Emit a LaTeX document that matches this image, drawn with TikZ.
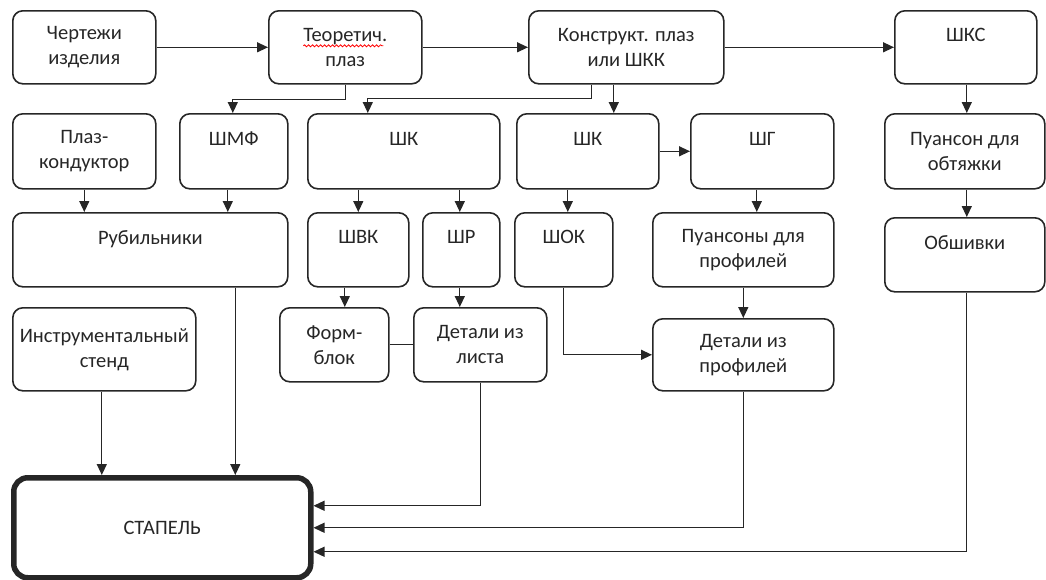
\documentclass[tikz,border=0pt]{standalone}
\usepackage{fontspec}
\setmainfont{Carlito}
\usetikzlibrary{arrows.meta,calc,decorations.pathmorphing}
\begin{document}
\begin{tikzpicture}[x=1pt,y=-1pt,
  box/.style={draw=black!85, line width=1.6pt, rounded corners=10pt, align=center,
    inner sep=0pt, anchor=north west, font=\fontsize{20.5}{25}\selectfont, text=black!85},
  mainbox/.style={box, line width=5.5pt, rounded corners=14pt},
  arr/.style={draw=black!85, line width=1.3pt, -{Triangle[length=11pt,width=10pt]}},
  ln/.style={draw=black!85, line width=1.3pt}]
\useasboundingbox (0,0) rectangle (1046,579);

% row 1
\node[box, minimum width=143pt, minimum height=73pt] (A) at (12,10) {Чертежи\\изделия};
\node[box, minimum width=153pt, minimum height=73pt] (B) at (268,10) {Теоретич.\\плаз};
\node[box, minimum width=195pt, minimum height=73pt] (C) at (528,10) {Конструкт. плаз\\или ШКК};
\node[box, minimum width=142pt, minimum height=73pt] (D) at (894,10) {ШКС\\~};
% row 2
\node[box, minimum width=143pt, minimum height=75pt] (E) at (12,113) {Плаз-\\кондуктор};
\node[box, minimum width=108pt, minimum height=75pt] (F) at (179,113) {ШМФ\\~};
\node[box, minimum width=192pt, minimum height=75pt] (G) at (307,113) {ШК\\~};
\node[box, minimum width=142pt, minimum height=75pt] (H) at (516,113) {ШК\\~};
\node[box, minimum width=143pt, minimum height=75pt] (I) at (690,113) {ШГ\\~};
\node[box, minimum width=160pt, minimum height=75pt] (J) at (884,113) {Пуансон для\\обтяжки};
% row 3
\node[box, minimum width=275pt, minimum height=74pt] (K) at (12,212) {Рубильники\\~};
\node[box, minimum width=101pt, minimum height=74pt] (L) at (307,212) {ШВК\\~};
\node[box, minimum width=77pt, minimum height=74pt] (M) at (422,212) {ШР\\~};
\node[box, minimum width=98pt, minimum height=74pt] (N) at (514,212) {ШОК\\~};
\node[box, minimum width=181pt, minimum height=74pt] (O) at (652,212) {Пуансоны для\\профилей};
\node[box, minimum width=160pt, minimum height=74pt] (P) at (884,217) {Обшивки\\~};
% row 4
\node[box, minimum width=183pt, minimum height=83pt] (Q) at (12,307) {Инструментальный\\стенд};
\node[box, minimum width=109pt, minimum height=74pt] (R) at (279,307) {Форм-\\блок};
\node[box, minimum width=133pt, minimum height=74pt] (S) at (413,307) {Детали из\\листа};
\node[box, minimum width=181pt, minimum height=72pt] (T) at (652,318) {Детали из\\профилей};
% main
\node[mainbox, minimum width=297pt, minimum height=100pt] (U) at (11,475) {СТАПЕЛЬ};

% spell-check underline
\draw[red, line width=0.8pt, decorate, decoration={snake, amplitude=1pt, segment length=4pt}]
  ($(B.center)+(-42,-1.5)$) -- ($(B.center)+(38,-1.5)$);

% exit points
\coordinate (q1) at ($(Q.south)+(-2.5,0)$);
\coordinate (k1) at ($(K.south)+(85,0)$);

% connectors
\draw[arr] (A.east) -- (B.west);
\draw[arr] (B.east) -- (C.west);
\draw[arr] (C.east) -- (D.west);
\draw[arr] (B.south) -- ++(0,15) -| ($(F.north)+(-1,0)$);
\draw[arr] ($(C.south)+(-34.5,0)$) -- ++(0,14) -| ($(G.north)+(-36,0)$);
\draw[arr] ($(C.south)+(-12.5,0)$) -- ($(H.north)+(26,0)$);
\draw[arr] ($(D.south)+(1,0)$) -- ($(J.north)+(2,0)$);
\draw[arr] (E.south) -- (E.south |- K.north);
\draw[arr] ($(F.south)+(-6,0)$) -- ($(K.north)+(77.5,0)$);
\draw[arr] (L.north |- G.south) -- (L.north);
\draw[arr] ($(M.north |- G.south)+(-1.5,0)$) -- ($(M.north)+(-1.5,0)$);
\draw[arr] (H.east) -- (I.west);
\draw[arr] ($(H.south)+(-20,0)$) -- ($(N.north)+(4,0)$);
\draw[arr] ($(I.south)+(-5.5,0)$) -- ($(O.north)+(13.5,0)$);
\draw[arr] ($(J.south)+(2,0)$) -- ($(P.north)+(2,0)$);
\draw[arr] ($(L.south)+(-13.5,0)$) -- ($(R.north)+(10.5,0)$);
\draw[arr] ($(M.south)+(-1.5,0)$) -- ($(S.north)+(-20.5,0)$);
\draw[ln] (R.east) -- (S.west);
\draw[arr] (N.south) |- (T.west);
\draw[arr] (O.south) -- (T.north);
\draw[arr] (q1) -- (q1 |- U.north);
\draw[arr] (k1) -- (k1 |- U.north);
\draw[arr] (S.south) |- ($(U.east)+(0,-22)$);
\draw[arr] (T.south) |- (U.east);
\draw[arr] ($(P.south)+(2,0)$) |- ($(U.east)+(0,24)$);
\end{tikzpicture}
\end{document}
